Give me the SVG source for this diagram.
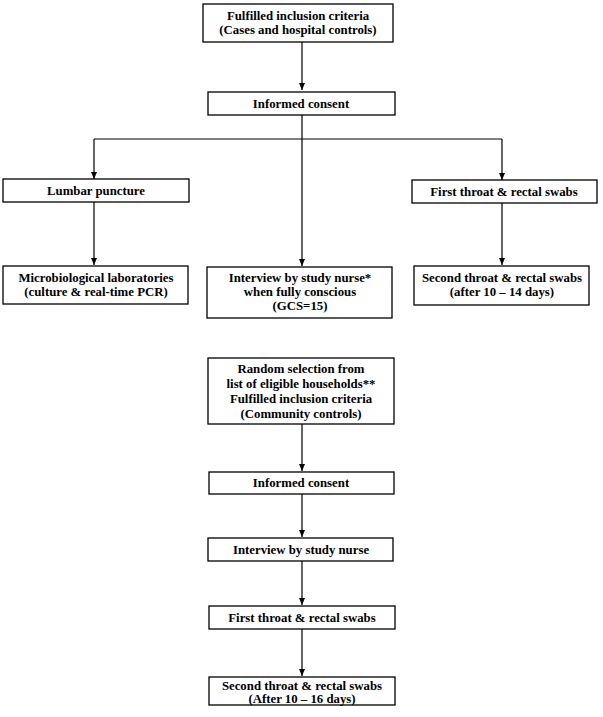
<svg xmlns="http://www.w3.org/2000/svg" width="603" height="717" viewBox="0 0 603 717">
<defs>
<marker id="arr" markerWidth="8" markerHeight="8" refX="7" refY="4" orient="auto" markerUnits="userSpaceOnUse">
<path d="M0,1 L7,4 L0,7 Z" fill="#000"/>
</marker>
<style>
.box{fill:#fff;stroke:#000;stroke-width:1.3}
.t{font-family:'Liberation Serif','Times New Roman','DejaVu Serif',serif;font-weight:bold;font-size:12.8px;text-anchor:middle;fill:#000}
.c{fill:none;stroke:#000;stroke-width:1.2}
</style>
</defs>
<rect width="603" height="717" fill="#fff"/>
<g id="connectors">
<path class="c" d="M302,42 V90" marker-end="url(#arr)"/>
<path class="c" d="M302,115 V266" marker-end="url(#arr)"/>
<path class="c" d="M94,139 H502"/>
<path class="c" d="M94,139 V179" marker-end="url(#arr)"/>
<path class="c" d="M502,139 V180" marker-end="url(#arr)"/>
<path class="c" d="M94,202 V265" marker-end="url(#arr)"/>
<path class="c" d="M502,203 V265" marker-end="url(#arr)"/>
<path class="c" d="M302,424 V471" marker-end="url(#arr)"/>
<path class="c" d="M302,494 V537" marker-end="url(#arr)"/>
<path class="c" d="M302,561 V605" marker-end="url(#arr)"/>
<path class="c" d="M302,629 V676" marker-end="url(#arr)"/>
</g>
<g id="n1"><rect class="box" x="203" y="4" width="190" height="38"/>
<text class="t" x="298" y="20">Fulfilled inclusion criteria</text>
<text class="t" x="298" y="34">(Cases and hospital controls)</text></g>
<g id="n2"><rect class="box" x="208" y="92" width="187" height="23"/>
<text class="t" x="301" y="108">Informed consent</text></g>
<g id="n3"><rect class="box" x="3" y="179" width="186" height="23"/>
<text class="t" x="96" y="195">Lumbar puncture</text></g>
<g id="n4"><rect class="box" x="412" y="180" width="185" height="23"/>
<text class="t" x="504" y="196">First throat &amp; rectal swabs</text></g>
<g id="n5"><rect class="box" x="3" y="266" width="185" height="38"/>
<text class="t" x="96" y="282">Microbiological laboratories</text>
<text class="t" x="96" y="296">(culture &amp; real-time PCR)</text></g>
<g id="n6"><rect class="box" x="207" y="267" width="185" height="51"/>
<text class="t" x="300" y="282">Interview by study nurse*</text>
<text class="t" x="300" y="296">when fully conscious</text>
<text class="t" x="300" y="310">(GCS=15)</text></g>
<g id="n7"><rect class="box" x="414" y="266" width="175" height="39"/>
<text class="t" x="502" y="282">Second throat &amp; rectal swabs</text>
<text class="t" x="502" y="296">(after 10 – 14 days)</text></g>
<g id="n8"><rect class="box" x="208" y="358" width="186" height="66"/>
<text class="t" x="301" y="373">Random selection from</text>
<text class="t" x="301" y="388">list of eligible households**</text>
<text class="t" x="301" y="403">Fulfilled inclusion criteria</text>
<text class="t" x="301" y="418">(Community controls)</text></g>
<g id="n9"><rect class="box" x="209" y="472" width="185" height="22"/>
<text class="t" x="301" y="487">Informed consent</text></g>
<g id="n10"><rect class="box" x="208" y="538" width="185" height="23"/>
<text class="t" x="301" y="554">Interview by study nurse</text></g>
<g id="n11"><rect class="box" x="209" y="606" width="186" height="23"/>
<text class="t" x="302" y="622">First throat &amp; rectal swabs</text></g>
<g id="n12"><rect class="box" x="209" y="677" width="186" height="28"/>
<text class="t" x="302" y="690">Second throat &amp; rectal swabs</text>
<text class="t" x="302" y="703">(After 10 – 16 days)</text></g>
</svg>
